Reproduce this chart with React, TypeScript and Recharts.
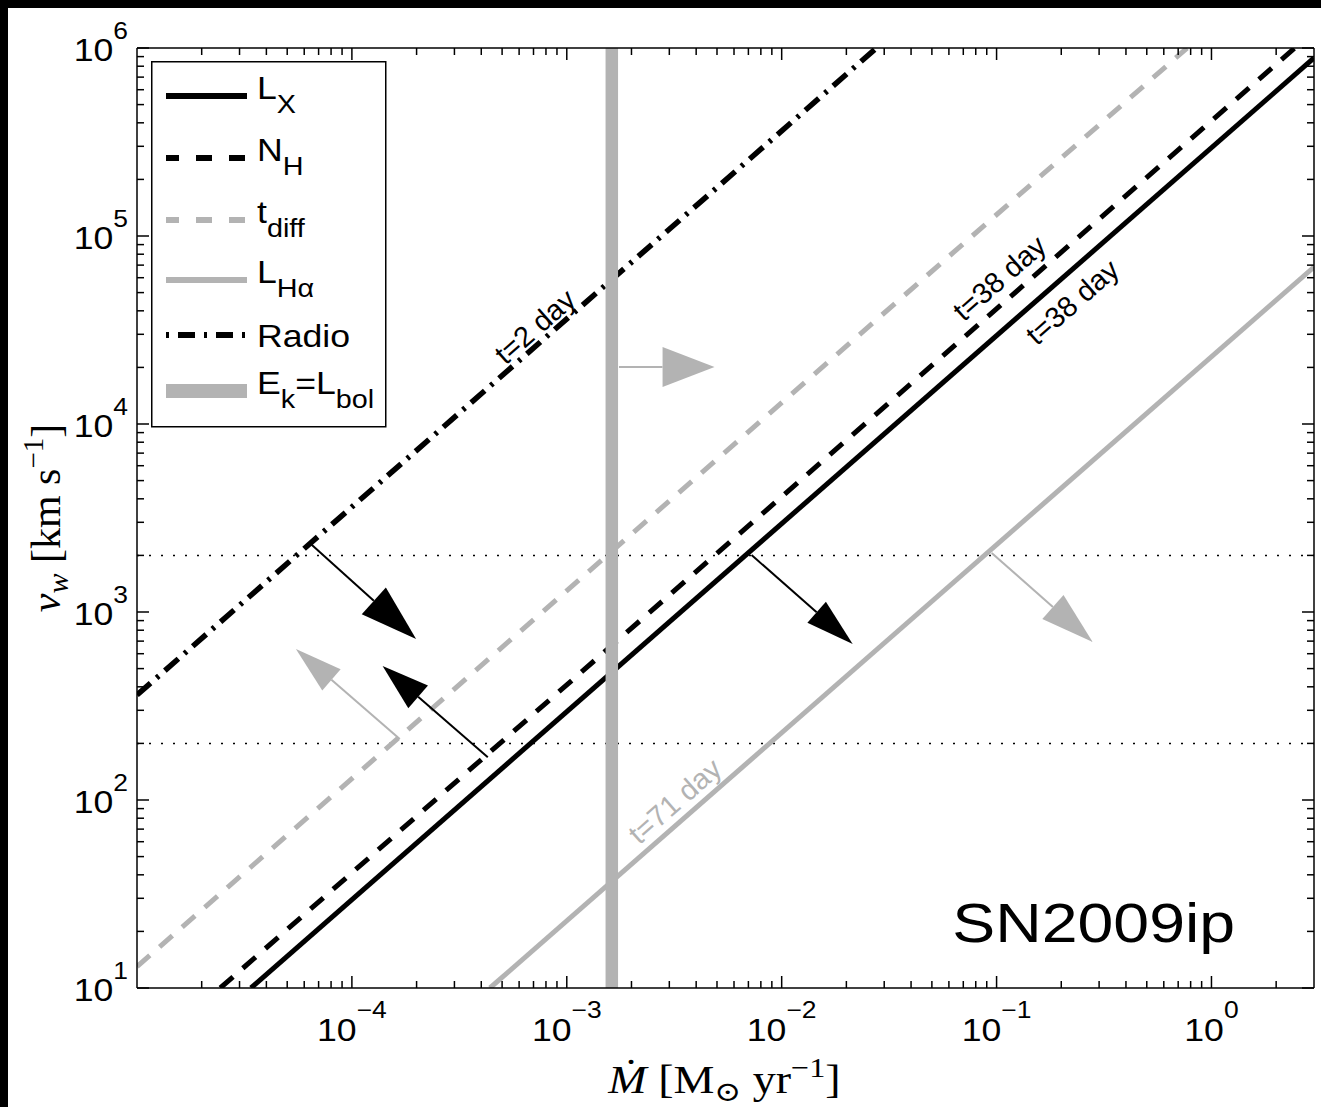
import React from "react";
import {
    ComposedChart,
    Line,
    XAxis,
    YAxis,
    ReferenceLine,
    ReferenceDot,
    Legend,
} from "recharts";

// horizontal stretch of every glyph in the reference
const SX = 1.15;
const SANS = '"Liberation Sans", Arial, Helvetica, sans-serif';
const SERIF = '"Liberation Serif", "Times New Roman", "DejaVu Serif", serif';
const GRAY = "#b3b3b3";

const xDomain = [1e-5, 3];
const yDomain = [10, 1e6];

const xMajor = [1e-4, 1e-3, 1e-2, 1e-1, 1];
const xExponents = ["\u22124", "\u22123", "\u22122", "\u22121", "0"];
const yMajor = [1e1, 1e2, 1e3, 1e4, 1e5, 1e6];
const yExponents = ["1", "2", "3", "4", "5", "6"];

const xDecades = [1e-5, 1e-4, 1e-3, 1e-2, 1e-1, 1];
const yDecades = [1e1, 1e2, 1e3, 1e4, 1e5];
const minorSteps = [2, 3, 4, 5, 6, 7, 8, 9];

// Mdot [Msun/yr] vs v_w [km/s]
const lxLine = [{ m: 3.39e-5, v: 10 }, { m: 3, v: 8.85e5 }];
const nhLine = [{ m: 2.44e-5, v: 10 }, { m: 2.44, v: 1e6 }];
const tdiffLine = [{ m: 1e-5, v: 13 }, { m: 0.77, v: 1e6 }];
const lhaLine = [{ m: 4.39e-4, v: 10 }, { m: 3, v: 6.84e4 }];
const radioLine = [{ m: 1e-5, v: 362 }, { m: 0.0276, v: 1e6 }];
const ekLine = [{ m: 1.62e-3, v: 10 }, { m: 1.62e-3, v: 1e6 }];

const velocityLevels = [200, 2000];

const arrowFrom = [
    [6.44e-5, 2300],
    [4.29e-4, 169],
    [1.67e-4, 211],
    [1.75e-3, 2.01e4],
    [7.24e-3, 2010],
    [9.49e-2, 2060],
];
const arrowTo = [
    [1.99e-4, 718],
    [1.39e-4, 516],
    [5.49e-5, 635],
    [4.87e-3, 2.01e4],
    [2.14e-2, 676],
    [0.28, 692],
];

const lineLabels = ["t=2 day", "t=38 day", "t=38 day", "t=71 day"];
const lineLabelAt = [
    [7.1e-4, 3.3e4],
    [0.103, 5.98e4],
    [0.225, 4.46e4],
    [3.18e-3, 98.9],
];

const legendKeys = ["lx", "nh", "tdiff", "lha", "radio", "ek"];
const legendLabels = ["L_{X}", "N_{H}", "t_{diff}", "L_{H\u03b1}", "Radio", "E_{k}=L_{bol}"];

const seriesStyle: Record<string, any> = {
    lx: { stroke: "#000", width: 5 },
    nh: { stroke: "#000", width: 5, dash: "17 13", legendDash: "16 17", offset: 3 },
    tdiff: { stroke: GRAY, width: 5, dash: "17 13", legendDash: "16 17", offset: 3 },
    lha: { stroke: GRAY, width: 5 },
    radio: { stroke: "#000", width: 5.5, dash: "18 8 3 8", legendDash: "3 9 17 9" },
    ek: { stroke: GRAY, width: 12.5 },
};

const arrowStyle = [
    { color: "#000", width: 2, head: 57, half: 18 },
    { color: "#000", width: 2, head: 47, half: 15 },
    { color: GRAY, width: 2, head: 47, half: 14 },
    { color: GRAY, width: 2, head: 52, half: 20 },
    { color: "#000", width: 2, head: 48, half: 14 },
    { color: GRAY, width: 2, head: 53, half: 16 },
];
const labelColor = ["#000", "#000", "#000", GRAY];
const legendRowY = [35, 97, 159, 219, 274, 330];

const minorTicks = (decades: number[], lo: number, hi: number) =>
    decades
        .flatMap((d) => minorSteps.map((s) => d * s))
        .filter((t) => t > lo && t < hi);

const xTicks = [...xMajor, ...minorTicks(xDecades, xDomain[0], xDomain[1])];
const yTicks = [...yMajor, ...minorTicks(yDecades, yDomain[0], yDomain[1])];

const axisStroke = { stroke: "#000", strokeWidth: 1.5 };

const XTick = (p: any) => {
    const { x, y, payload, top } = p;
    const i = xMajor.indexOf(payload.value);
    const len = i >= 0 ? 12 : 7;
    const dir = top ? 1 : -1;
    return (
        <g>
            <line x1={x} y1={y} x2={x} y2={y + dir * len} stroke="#000" strokeWidth={1.5} />
            {!top && i >= 0 && (
                <text
                    transform={`translate(${x},${y + 53}) scale(${SX},1)`}
                    textAnchor="middle"
                    fontFamily={SANS}
                    fontSize={31}
                    fill="#000"
                >
                    10
                    <tspan dy={-23} fontSize={23}>
                        {xExponents[i]}
                    </tspan>
                </text>
            )}
        </g>
    );
};

const YTick = (p: any) => {
    const { x, y, payload, right } = p;
    const i = yMajor.indexOf(payload.value);
    const len = i >= 0 ? 12 : 7;
    const dir = right ? -1 : 1;
    return (
        <g>
            <line x1={x} y1={y} x2={x + dir * len} y2={y} stroke="#000" strokeWidth={1.5} />
            {!right && i >= 0 && (
                <text
                    transform={`translate(${x - 9},${y + 13}) scale(${SX},1)`}
                    textAnchor="end"
                    fontFamily={SANS}
                    fontSize={31}
                    fill="#000"
                >
                    10
                    <tspan dy={-22} fontSize={23}>
                        {yExponents[i]}
                    </tspan>
                </text>
            )}
        </g>
    );
};

const XLabel = (p: any) => {
    const vb = p.viewBox ?? { x: 129, y: 980, width: 1177, height: 119 };
    const cx = vb.x + vb.width / 2 - 1;
    return (
        <text
            transform={`translate(${cx},${vb.y + 105}) scale(${SX},1)`}
            textAnchor="middle"
            fontFamily={SERIF}
            fontSize={40}
            fill="#000"
        >
            <tspan fontStyle="italic">{"\u1e40"}</tspan>
            <tspan>{"  [M"}</tspan>
            <tspan dy={8} fontSize={28}>{"\u2299"}</tspan>
            <tspan dy={-8}>{" yr"}</tspan>
            <tspan dy={-16} fontSize={28}>{"\u22121"}</tspan>
            <tspan dy={16}>]</tspan>
        </text>
    );
};

const YLabel = (p: any) => {
    const vb = p.viewBox ?? { x: 0, y: 40, width: 129, height: 940 };
    const cy = vb.y + vb.height / 2;
    return (
        <text
            transform={`translate(52,${cy}) rotate(-90)`}
            textAnchor="middle"
            fontFamily={SERIF}
            fontSize={42}
            fill="#000"
        >
            <tspan fontStyle="italic">v</tspan>
            <tspan fontStyle="italic" dy={8} fontSize={30}>w</tspan>
            <tspan dy={-8}>{"  [km s"}</tspan>
            <tspan dy={-17} fontSize={29}>{"\u22121"}</tspan>
            <tspan dy={17}>]</tspan>
        </text>
    );
};

const arrowShape = (st: any) => (p: any) => {
    const x1 = Number(p.x1);
    const y1 = Number(p.y1);
    const x2 = Number(p.x2);
    const y2 = Number(p.y2);
    const L = Math.hypot(x2 - x1, y2 - y1) || 1;
    const ux = (x2 - x1) / L;
    const uy = (y2 - y1) / L;
    const bx = x2 - ux * st.head;
    const by = y2 - uy * st.head;
    const px = -uy * st.half;
    const py = ux * st.half;
    return (
        <g>
            <line x1={x1} y1={y1} x2={bx} y2={by} stroke={st.color} strokeWidth={st.width} />
            <polygon
                points={`${x2},${y2} ${bx + px},${by + py} ${bx - px},${by - py}`}
                fill={st.color}
            />
        </g>
    );
};

const labelShape = (text: string, color: string) => (p: any) => (
    <text
        transform={`translate(${p.cx},${p.cy}) rotate(-41.2)`}
        textAnchor="middle"
        dy="0.35em"
        fontFamily={SANS}
        fontSize={29}
        fill={color}
    >
        {text}
    </text>
);

const nameShape = (p: any) => (
    <text
        transform={`translate(${p.cx},${p.cy}) scale(${SX},1)`}
        textAnchor="middle"
        fontFamily={SANS}
        fontSize={56}
        fill="#000"
    >
        SN2009ip
    </text>
);

const scriptSpans = (s: string, base: number, sub: number, shift: number) => {
    const parts = s.split(/(_\{[^}]*\})/).filter(Boolean);
    let down = false;
    return parts.map((part, i) => {
        if (part.startsWith("_{")) {
            down = true;
            return (
                <tspan key={i} dy={shift} fontSize={sub}>
                    {part.slice(2, -1)}
                </tspan>
            );
        }
        const el = (
            <tspan key={i} dy={down ? -shift : 0} fontSize={base}>
                {part}
            </tspan>
        );
        down = false;
        return el;
    });
};

const LegendBox = () => (
    <svg width={236} height={367} style={{ display: "block" }}>
        <rect x={0.75} y={0.75} width={234} height={365} fill="#fff" stroke="#000" strokeWidth={1.5} />
        {legendLabels.map((lab, i) => {
            const st = seriesStyle[legendKeys[i]];
            const y = legendRowY[i];
            const hasSub = lab.includes("_{");
            return (
                <g key={lab}>
                    <line
                        x1={15}
                        x2={96}
                        y1={y}
                        y2={y}
                        stroke={st.stroke}
                        strokeWidth={st.width > 10 ? 14 : 6}
                        strokeDasharray={st.legendDash}
                        strokeDashoffset={st.offset ?? 0}
                    />
                    <text
                        transform={`translate(106,${y + (hasSub ? 3 : 12)}) scale(${SX},1)`}
                        fontFamily={SANS}
                        fontSize={31}
                        fill="#000"
                    >
                        {scriptSpans(lab, 31, 25, 14)}
                    </text>
                </g>
            );
        })}
    </svg>
);

const seriesLine = (key: string, data: any[]) => {
    const st = seriesStyle[key];
    return (
        <Line
            key={key}
            data={data}
            dataKey="v"
            stroke={st.stroke}
            strokeWidth={st.width}
            strokeDasharray={st.dash}
            strokeLinecap="butt"
            dot={false}
            activeDot={false}
            isAnimationActive={false}
        />
    );
};

export default function App() {
    return (
        <div
            style={{
                position: "fixed",
                left: 0,
                top: 0,
                right: 0,
                bottom: 0,
                background: "#000",
                overflow: "hidden",
            }}
        >
            <div
                style={{
                    position: "absolute",
                    left: 8,
                    top: 8,
                    right: -100,
                    bottom: -100,
                    background: "#fff",
                }}
            >
                <ComposedChart
                    width={1313}
                    height={1099}
                    margin={{ top: 0, right: 0, bottom: 0, left: 0 }}
                >
                    <XAxis
                        dataKey="m"
                        type="number"
                        scale="log"
                        domain={xDomain}
                        allowDataOverflow
                        ticks={xTicks}
                        interval={0}
                        tickSize={0}
                        tickMargin={0}
                        tickLine={false}
                        axisLine={axisStroke}
                        height={119}
                        tick={(p: any) => <XTick {...p} />}
                        label={{ content: XLabel }}
                    />
                    <XAxis
                        xAxisId="top"
                        orientation="top"
                        dataKey="m"
                        type="number"
                        scale="log"
                        domain={xDomain}
                        allowDataOverflow
                        ticks={xTicks}
                        interval={0}
                        tickSize={0}
                        tickMargin={0}
                        tickLine={false}
                        axisLine={axisStroke}
                        height={40}
                        tick={(p: any) => <XTick {...p} top />}
                    />
                    <YAxis
                        type="number"
                        scale="log"
                        domain={yDomain}
                        allowDataOverflow
                        ticks={yTicks}
                        interval={0}
                        tickSize={0}
                        tickMargin={0}
                        tickLine={false}
                        axisLine={axisStroke}
                        width={129}
                        tick={(p: any) => <YTick {...p} />}
                        label={{ content: YLabel }}
                    />
                    <YAxis
                        yAxisId="right"
                        orientation="right"
                        type="number"
                        scale="log"
                        domain={yDomain}
                        allowDataOverflow
                        ticks={yTicks}
                        interval={0}
                        tickSize={0}
                        tickMargin={0}
                        tickLine={false}
                        axisLine={axisStroke}
                        width={7}
                        tick={(p: any) => <YTick {...p} right />}
                    />

                    {velocityLevels.map((v) => (
                        <ReferenceLine
                            key={v}
                            y={v}
                            stroke="#000"
                            strokeWidth={1.5}
                            strokeDasharray="2 10"
                        />
                    ))}

                    {seriesLine("tdiff", tdiffLine)}
                    {seriesLine("lha", lhaLine)}
                    {seriesLine("nh", nhLine)}
                    {seriesLine("lx", lxLine)}
                    {seriesLine("radio", radioLine)}
                    {seriesLine("ek", ekLine)}

                    {arrowFrom.map((f, i) => (
                        <ReferenceLine
                            key={`arrow-${i}`}
                            segment={[
                                { x: f[0], y: f[1] },
                                { x: arrowTo[i][0], y: arrowTo[i][1] },
                            ]}
                            ifOverflow="visible"
                            shape={arrowShape(arrowStyle[i])}
                        />
                    ))}

                    {lineLabels.map((t, i) => (
                        <ReferenceDot
                            key={`lab-${i}`}
                            x={lineLabelAt[i][0]}
                            y={lineLabelAt[i][1]}
                            r={1}
                            ifOverflow="visible"
                            shape={labelShape(t, labelColor[i])}
                        />
                    ))}

                    <ReferenceDot
                        x={0.283}
                        y={17.6}
                        r={1}
                        ifOverflow="visible"
                        shape={nameShape}
                    />

                    <Legend
                        layout="horizontal"
                        verticalAlign="middle"
                        align="center"
                        content={() => <LegendBox />}
                        wrapperStyle={{ left: 143, top: 53, width: 236, height: 367 }}
                    />
                </ComposedChart>
            </div>
        </div>
    );
}
